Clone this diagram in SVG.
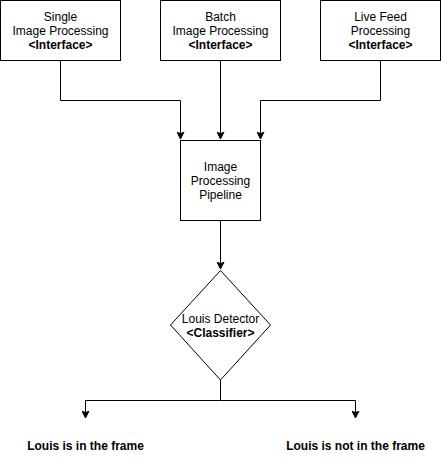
<svg xmlns="http://www.w3.org/2000/svg" width="441" height="471" viewBox="0 0 441 471">
<style>
.n{fill:#fff;stroke:#000;stroke-width:1}
.t{font-family:"Liberation Sans",Arial,sans-serif;font-size:12px;fill:#000;text-anchor:middle}
.b{font-weight:bold}
.c{fill:none;stroke:#000;stroke-width:1}
</style>
<defs>
<marker id="a" markerWidth="8" markerHeight="8" refX="7" refY="4" orient="auto" markerUnits="userSpaceOnUse">
<path d="M0,0.5 L7,4 L0,7.5 L1.75,4 Z" fill="#000" stroke="#000" stroke-width="1"/>
</marker>
</defs>
<rect width="441" height="471" fill="#fff"/>
<g id="connectors">
<path class="c" d="M60.5,60.5 V100.5 H180.5 V139" marker-end="url(#a)"/>
<path class="c" d="M220.5,60.5 V139" marker-end="url(#a)"/>
<path class="c" d="M380.5,60.5 V100.5 H260.5 V139" marker-end="url(#a)"/>
<path class="c" d="M220.5,220.5 V269" marker-end="url(#a)"/>
<path class="c" d="M220.5,380 V400.5 H85.5 V418" marker-end="url(#a)"/>
<path class="c" d="M220.5,400.5 H355.5 V418" marker-end="url(#a)"/>
</g>
<g id="single">
<rect class="n" x="0.5" y="0.5" width="120" height="60"/>
<text class="t" x="60.5" y="21">Single</text>
<text class="t" x="60.5" y="35">Image Processing</text>
<text class="t b" x="60.5" y="49">&lt;Interface&gt;</text>
</g>
<g id="batch">
<rect class="n" x="160.5" y="0.5" width="120" height="60"/>
<text class="t" x="220.5" y="21">Batch</text>
<text class="t" x="220.5" y="35">Image Processing</text>
<text class="t b" x="220.5" y="49">&lt;Interface&gt;</text>
</g>
<g id="live">
<rect class="n" x="320.5" y="0.5" width="120" height="60"/>
<text class="t" x="380.5" y="21">Live Feed</text>
<text class="t" x="380.5" y="35">Processing</text>
<text class="t b" x="380.5" y="49">&lt;Interface&gt;</text>
</g>
<g id="pipeline">
<rect class="n" x="180.5" y="140.5" width="80" height="80"/>
<text class="t" x="220.5" y="171">Image</text>
<text class="t" x="220.5" y="185">Processing</text>
<text class="t" x="220.5" y="199">Pipeline</text>
</g>
<g id="detector">
<path class="n" d="M220.5,270.5 L270.5,325 L220.5,380 L170.5,325 Z"/>
<text class="t" x="220.5" y="323">Louis Detector</text>
<text class="t b" x="220.5" y="337">&lt;Classifier&gt;</text>
</g>
<g id="in-frame">
<text class="t b" x="85.5" y="450">Louis is in the frame</text>
</g>
<g id="not-in-frame">
<text class="t b" x="355.5" y="450">Louis is not in the frame</text>
</g>
</svg>
